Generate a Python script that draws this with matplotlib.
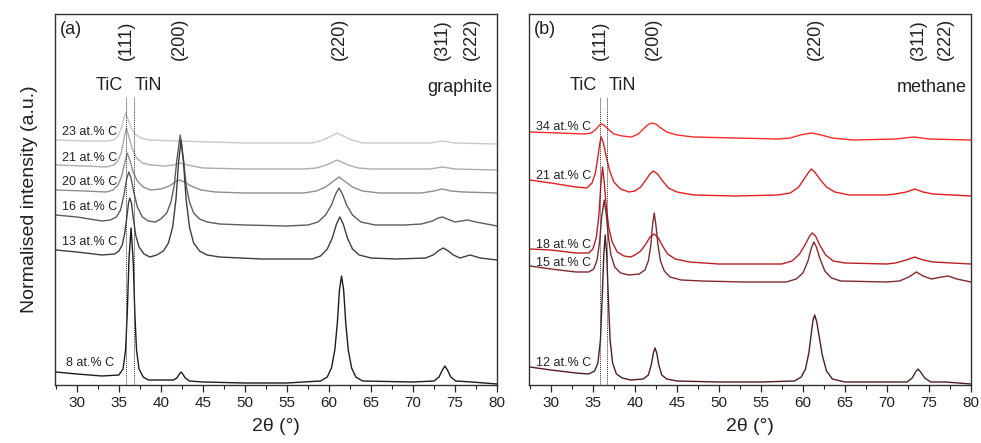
import matplotlib
matplotlib.use("Agg")
import matplotlib.pyplot as plt
from matplotlib.ticker import MultipleLocator

plt.rcParams['font.family'] = ['Liberation Sans', 'DejaVu Sans']

# ---------------- data (2theta in degrees, intensity in arbitrary units, offsets included) ----------------
# Panel (a): graphite series
a8_x = [27.5, 30, 33, 35.0, 35.5, 35.8, 36.0, 36.2, 36.45, 36.7, 36.9, 37.1, 37.4, 37.9, 38.5, 41.5, 41.9, 42.2, 42.4, 42.6, 42.9, 43.4, 45, 50, 55, 59.0, 59.8, 60.3, 60.7, 61.0, 61.25, 61.5, 61.75, 62.0, 62.3, 62.7, 63.2, 64, 70, 72.5, 73.1, 73.5, 73.8, 74.1, 74.5, 75.1, 77, 80]
a8_y = [13, 11, 9, 10, 16, 35, 72, 125, 157, 125, 72, 35, 16, 8, 5, 5, 7, 11, 13, 11, 7, 4, 3, 2, 2, 4, 8, 17, 35, 62, 95, 109, 95, 62, 35, 17, 8, 4, 3, 4, 8, 15, 19, 15, 8, 4, 3, 1]

a13_x = [27.5, 30, 33, 34.5, 35.0, 35.4, 35.7, 35.95, 36.15, 36.3, 36.5, 36.7, 37.0, 37.4, 38.0, 38.7, 39.5, 40.3, 40.9, 41.4, 41.8, 42.1, 42.4, 42.7, 43.0, 43.4, 43.9, 44.6, 45.5, 47, 52, 58, 59, 59.8, 60.4, 60.9, 61.3, 61.7, 62.2, 62.8, 63.6, 65, 68, 71.5, 72.4, 73.0, 73.6, 74.2, 74.8, 75.6, 76.8, 78, 80]
a13_y = [135, 133, 130, 131, 134, 140, 152, 168, 182, 187, 182, 168, 150, 138, 131, 128, 130, 134, 142, 158, 186, 222, 245, 222, 186, 158, 142, 134, 130, 128, 126, 126, 129, 136, 147, 161, 168, 161, 147, 136, 130, 127, 126, 127, 130, 134, 137, 134, 130, 127, 130, 127, 125]

a16_x = [27.5, 30, 33, 34.0, 34.7, 35.2, 35.6, 35.95, 36.2, 36.45, 36.8, 37.2, 37.8, 38.5, 39.3, 40.0, 40.7, 41.2, 41.6, 41.9, 42.3, 42.7, 43.0, 43.4, 43.9, 44.6, 45.5, 47, 50, 55, 57.5, 58.7, 59.6, 60.3, 60.8, 61.2, 61.6, 62.1, 62.8, 63.8, 65.5, 69, 71, 72.3, 73.0, 73.5, 74.1, 75.0, 76.5, 77.5, 80]
a16_y = [170, 168, 164, 165, 168, 175, 190, 207, 213, 207, 192, 178, 168, 164, 163, 166, 172, 183, 200, 225, 250, 225, 200, 183, 172, 166, 163, 161, 160, 159, 160, 163, 170, 180, 191, 197, 191, 180, 170, 163, 160, 160, 161, 164, 167, 168, 166, 163, 165, 163, 159]

a20_x = [27.5, 31, 33.5, 34.3, 34.9, 35.3, 35.7, 36.0, 36.3, 36.7, 37.2, 37.9, 38.8, 40.0, 41.0, 41.7, 42.2, 42.8, 43.6, 44.8, 46.5, 50, 57, 58.5, 59.6, 60.4, 61.2, 62.0, 62.8, 64.0, 66, 71, 72.5, 73.5, 74.5, 76, 80]
a20_y = [195, 194, 193, 195, 200, 208, 222, 232, 225, 213, 204, 198, 195, 196, 199, 203, 205, 203, 199, 195, 193, 192, 192, 194, 198, 203, 208, 203, 198, 194, 192, 192, 194, 196, 194, 193, 192]

a21_x = [27.5, 31, 33.5, 34.4, 34.9, 35.3, 35.65, 35.9, 36.2, 36.6, 37.1, 37.8, 38.8, 40.5, 41.5, 42.3, 43.2, 45, 50, 57, 58.5, 59.7, 61.0, 62.3, 63.5, 65, 72, 73.5, 75, 80]
a21_y = [220, 219, 218, 220, 224, 233, 248, 257, 248, 236, 227, 222, 220, 219, 220, 222, 220, 217, 216, 216, 217, 220, 225, 220, 217, 216, 216, 218, 216, 215]

a23_x = [27.5, 31, 33.5, 34.4, 34.9, 35.3, 35.6, 35.8, 36.05, 36.4, 36.9, 37.6, 38.6, 42, 50, 58, 59.3, 60.3, 61.0, 61.7, 62.7, 64, 72, 73.5, 75, 80]
a23_y = [245, 244, 244, 245, 249, 257, 267, 272, 267, 258, 251, 247, 245, 244, 242, 242, 245, 249, 252, 249, 245, 242, 242, 244, 242, 241]

# Panel (b): methane series
b12_x = [27.5, 30, 33, 34.5, 35.2, 35.6, 35.9, 36.1, 36.3, 36.47, 36.65, 36.85, 37.05, 37.35, 37.8, 38.5, 39.5, 41.0, 41.6, 41.95, 42.2, 42.4, 42.6, 42.85, 43.2, 43.8, 45, 50, 55, 59, 59.8, 60.3, 60.7, 61.0, 61.2, 61.4, 61.65, 61.9, 62.3, 62.8, 63.5, 65, 70, 72.4, 73.0, 73.4, 73.7, 74.0, 74.5, 75.2, 77, 80]
b12_y = [18, 15, 12, 11, 14, 22, 45, 85, 130, 150, 130, 85, 45, 22, 11, 7, 5, 6, 10, 20, 32, 37, 32, 20, 10, 6, 4, 3, 3, 4, 8, 16, 32, 52, 65, 70, 63, 50, 30, 14, 6, 3, 3, 3, 7, 13, 16, 13, 7, 3, 3, 1]

b15_x = [27.5, 30, 33, 34.5, 35.1, 35.5, 35.8, 36.05, 36.35, 36.6, 36.85, 37.15, 37.6, 38.3, 39.3, 40.5, 41.2, 41.6, 41.9, 42.1, 42.3, 42.5, 42.75, 43.05, 43.5, 44.2, 45.5, 48, 53, 58, 59.2, 60.0, 60.6, 61.0, 61.3, 61.6, 62.0, 62.6, 63.4, 64.5, 70, 71.5, 72.6, 73.5, 74.3, 75.3, 76.5, 77.3, 78.3, 80]
b15_y = [119, 116, 113, 113, 116, 125, 143, 168, 185, 170, 148, 130, 118, 112, 110, 111, 115, 124, 140, 160, 172, 160, 140, 124, 114, 108, 105, 104, 103, 103, 106, 112, 124, 137, 143, 138, 127, 114, 107, 104, 103, 104, 108, 113, 109, 106, 108, 109, 106, 103]

b18_x = [27.5, 30, 33, 34.5, 35.0, 35.4, 35.7, 35.95, 36.15, 36.35, 36.6, 36.9, 37.3, 37.9, 38.7, 39.5, 40.0, 40.7, 41.3, 41.8, 42.3, 42.8, 43.3, 43.9, 44.8, 46.5, 50, 57.5, 58.7, 59.6, 60.3, 60.8, 61.1, 61.5, 62.0, 62.7, 63.6, 65, 70, 71, 72.3, 73.3, 74.3, 75.5, 80]
b18_y = [136, 135, 132, 132, 136, 147, 168, 200, 218, 203, 178, 157, 143, 133, 129, 128, 130, 134, 141, 148, 151, 147, 139, 131, 126, 123, 121, 121, 124, 131, 141, 149, 152, 149, 140, 130, 124, 122, 121, 122, 125, 128, 125, 123, 121]

b21_x = [27.5, 30, 33, 34.3, 34.9, 35.3, 35.6, 35.85, 36.0, 36.25, 36.6, 37.0, 37.5, 38.3, 39.3, 40.0, 40.7, 41.3, 41.8, 42.2, 42.7, 43.3, 44.0, 45.0, 47, 52, 57, 58.5, 59.5, 60.3, 60.7, 61.0, 61.4, 62.0, 62.8, 63.8, 65.5, 70, 71, 72.3, 73.3, 74.3, 75.5, 80]
b21_y = [205, 202, 198, 197, 202, 212, 228, 243, 248, 242, 228, 214, 203, 196, 193, 194, 198, 205, 211, 214, 211, 204, 197, 193, 190, 189, 190, 192, 198, 208, 213, 216, 213, 206, 198, 193, 190, 190, 191, 193, 196, 193, 191, 189]

b34_x = [27.5, 31, 34, 34.8, 35.4, 35.8, 36.0, 36.3, 36.8, 37.5, 38.5, 39.6, 40.4, 41.0, 41.5, 42.0, 42.5, 43.1, 43.8, 45, 47, 52, 57, 58.5, 59.7, 61.0, 62.2, 63.5, 66, 71, 73.2, 75, 80]
b34_y = [253, 252, 251, 252, 256, 260, 261, 260, 256, 251, 249, 248, 251, 256, 260, 262, 261, 257, 253, 250, 248, 247, 246, 247, 250, 252, 250, 247, 245, 246, 248, 246, 245]

labels_a = ["23 at.% C", "21 at.% C", "20 at.% C", "16 at.% C", "13 at.% C", "8 at.% C"]
labels_b = ["34 at.% C", "21 at.% C", "18 at.% C", "15 at.% C", "12 at.% C"]
hkl_labels = ["(111)", "(200)", "(220)", "(311)", "(222)"]
hkl_pos_a = [35.95, 42.26, 61.3, 73.45, 77.0]
hkl_pos_b = [35.95, 42.26, 61.5, 73.7, 77.0]
ref_lines_a = [35.8, 36.75]   # TiC, TiN (111)
ref_lines_b = [35.9, 36.7]

# ---------------- styling ----------------
colors_a = ["#c9c9c9", "#acacac", "#8e8e8e", "#5c5c5c", "#3e3e3e", "#1c1c1c"]
colors_b = ["#ff2a2a", "#e41e1e", "#bb1f24", "#7e2a2e", "#4f1e1e"]
label_y_a = [253, 227, 203, 178, 143, 22]
label_x_a = [28.2, 28.2, 28.2, 28.2, 28.2, 28.7]
label_y_b = [258, 209, 140, 122, 22]

fig = plt.figure(figsize=(9.81, 4.43), dpi=100)
ax_a = fig.add_axes([55 / 981, 58 / 443, 442 / 981, 371 / 443])
ax_b = fig.add_axes([529 / 981, 58 / 443, 442 / 981, 371 / 443])

series_a = [(a23_x, a23_y), (a21_x, a21_y), (a20_x, a20_y), (a16_x, a16_y), (a13_x, a13_y), (a8_x, a8_y)]
series_b = [(b34_x, b34_y), (b21_x, b21_y), (b18_x, b18_y), (b15_x, b15_y), (b12_x, b12_y)]


def style_axes(ax, panel, tag, hkl_pos, ref_lines, series, colors, labels, lx, ly):
    for (xs, ys), c in zip(series, colors):
        ax.plot(xs, ys, color=c, lw=1.0)
    for xv in ref_lines:
        ax.plot([xv, xv], [0, 288], color="#333333", lw=0.7, ls=(0, (1, 1)))
    for lab, xx, yy in zip(labels, lx, ly):
        ax.text(xx, yy, lab, fontsize=9, ha="left", va="center", color="#222222")
    for lab, xp in zip(hkl_labels, hkl_pos):
        ax.text(xp, 325, lab, rotation=90, fontsize=13, ha="center", va="bottom", color="#222222")
    ax.text(33.9, 299, "TiC", fontsize=13, ha="center", va="center", color="#222222")
    ax.text(38.5, 299, "TiN", fontsize=13, ha="center", va="center", color="#222222")
    ax.text(79.5, 297, tag, fontsize=13, ha="right", va="center", color="#222222")
    ax.text(28.0, 355, panel, fontsize=13, ha="left", va="center", color="#222222")
    ax.set_xlim(27.4, 80)
    ax.set_ylim(0, 371)
    ax.set_yticks([])
    ax.xaxis.set_major_locator(MultipleLocator(5))
    ax.xaxis.set_minor_locator(MultipleLocator(2.5))
    ax.tick_params(axis="x", which="major", direction="out", length=5, width=0.9,
                   labelsize=11, colors="#222222", pad=3)
    ax.tick_params(axis="x", which="minor", direction="out", length=3, width=0.8, colors="#222222")
    for sp in ax.spines.values():
        sp.set_color("#333333")
        sp.set_linewidth(1.0)
    ax.set_xlabel("2θ (°)", fontsize=14, color="#222222", labelpad=6)


style_axes(ax_a, "(a)", "graphite", hkl_pos_a, ref_lines_a, series_a, colors_a, labels_a, label_x_a, label_y_a)
style_axes(ax_b, "(b)", "methane", hkl_pos_b, ref_lines_b, series_b, colors_b, labels_b, [28.2] * 5, label_y_b)
ax_a.set_ylabel("Normalised intensity (a.u.)", fontsize=14, color="#222222", labelpad=12)

fig.savefig("out.png", dpi=100)
